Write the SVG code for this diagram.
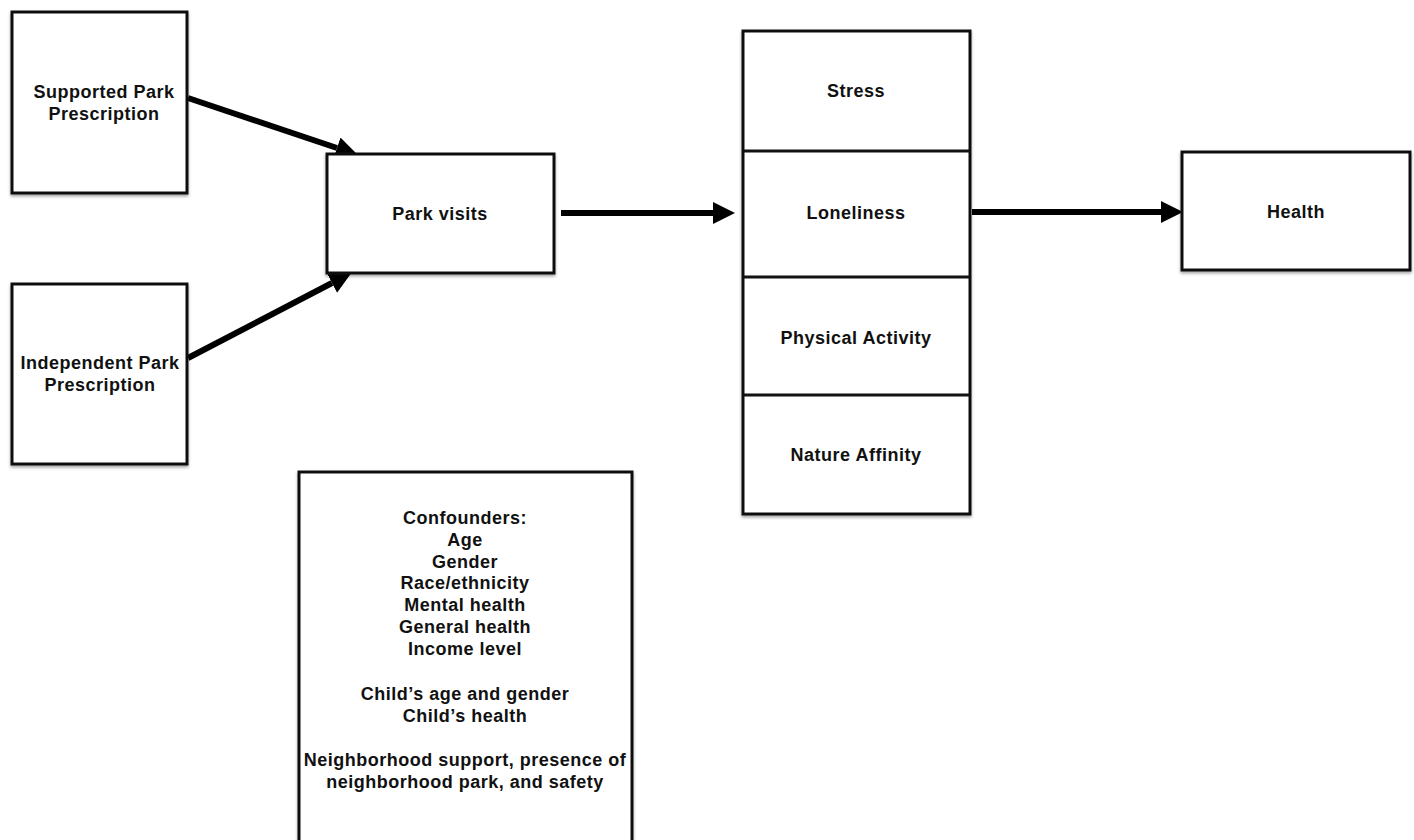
<svg xmlns="http://www.w3.org/2000/svg" width="1414" height="840" viewBox="0 0 1414 840">
<style>
.box{fill:#fff;stroke:#111;stroke-width:3;filter:url(#sh)}
.div{stroke:#111;stroke-width:3}
text{font-family:"Liberation Sans",Arial,sans-serif;font-weight:bold;font-size:18px;letter-spacing:0.5px;fill:#111;text-anchor:middle}
.c{stroke:#000;stroke-width:6;fill:none}
</style>
<defs>
<filter id="sh" x="-10%" y="-10%" width="120%" height="120%">
<feDropShadow dx="0" dy="2" stdDeviation="1.5" flood-color="#000" flood-opacity="0.35"/>
</filter>
<marker id="ah" markerUnits="userSpaceOnUse" viewBox="0 0 22 22" refX="0" refY="11" markerWidth="22" markerHeight="22" orient="auto">
<path d="M0,0 L22,11 L0,22 z" fill="#000"/>
</marker>
</defs>
<g id="connectors">
<line class="c" x1="188" y1="98" x2="337" y2="148" marker-end="url(#ah)"/>
<line class="c" x1="188" y1="358" x2="332" y2="283" marker-end="url(#ah)"/>
<line class="c" x1="561" y1="213" x2="713" y2="213" marker-end="url(#ah)"/>
<line class="c" x1="972" y1="212" x2="1161" y2="212" stroke-width="8" marker-end="url(#ah)"/>
</g>
<g id="supported">
<rect class="box" x="12" y="12" width="175" height="181"/>
<text x="104" y="98">Supported Park</text>
<text x="104" y="120">Prescription</text>
</g>
<g id="independent">
<rect class="box" x="12" y="284" width="175" height="180"/>
<text x="100" y="369">Independent Park</text>
<text x="100" y="391">Prescription</text>
</g>
<g id="parkvisits">
<rect class="box" x="327" y="154" width="227" height="119"/>
<text x="440" y="220">Park visits</text>
</g>
<g id="mediators">
<rect class="box" x="743" y="31" width="227" height="483"/>
<line class="div" x1="743" y1="151" x2="970" y2="151"/>
<line class="div" x1="743" y1="277" x2="970" y2="277"/>
<line class="div" x1="743" y1="395" x2="970" y2="395"/>
<text x="856" y="97">Stress</text>
<text x="856" y="219">Loneliness</text>
<text x="856" y="344">Physical Activity</text>
<text x="856" y="461">Nature Affinity</text>
</g>
<g id="health">
<rect class="box" x="1182" y="152" width="228" height="118"/>
<text x="1296" y="218">Health</text>
</g>
<g id="confounders">
<rect class="box" x="299" y="472" width="333" height="380"/>
<text x="465" y="524">Confounders:</text>
<text x="465" y="546">Age</text>
<text x="465" y="568">Gender</text>
<text x="465" y="589">Race/ethnicity</text>
<text x="465" y="611">Mental health</text>
<text x="465" y="633">General health</text>
<text x="465" y="655">Income level</text>
<text x="465" y="700">Child’s age and gender</text>
<text x="465" y="722">Child’s health</text>
<text x="465" y="766">Neighborhood support, presence of</text>
<text x="465" y="788">neighborhood park, and safety</text>
</g>
</svg>
